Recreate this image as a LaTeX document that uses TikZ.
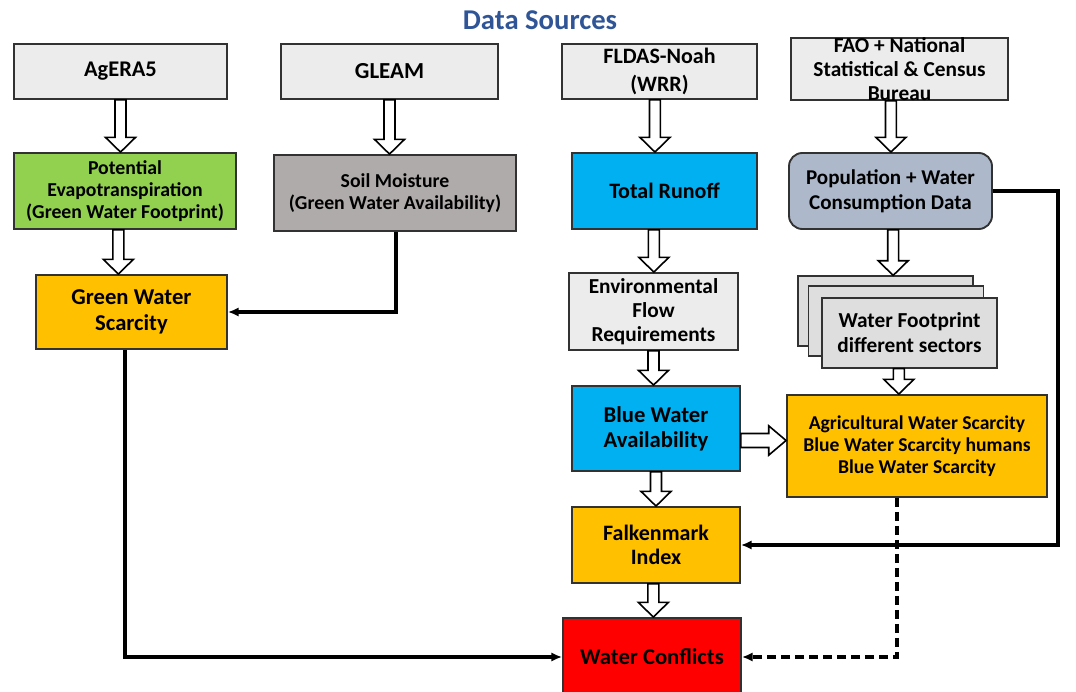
\documentclass[tikz,border=0pt]{standalone}
\usepackage{fontspec}
\setmainfont{Carlito}
\usetikzlibrary{calc,arrows.meta}

\definecolor{srcgray}{RGB}{236,236,236}
\definecolor{cardgray}{RGB}{222,222,222}
\definecolor{soilgray}{RGB}{175,171,171}
\definecolor{petgreen}{RGB}{146,208,80}
\definecolor{scarcity}{RGB}{255,192,0}
\definecolor{runoffblue}{RGB}{0,176,240}
\definecolor{popblue}{RGB}{173,185,202}
\definecolor{conflictred}{RGB}{255,0,0}
\definecolor{titleblue}{RGB}{47,85,151}
\definecolor{edge}{RGB}{50,50,50}

\newcommand{\fs}[2]{\fontsize{#1}{#2}\bfseries\selectfont}

% hollow block arrows
\newcommand{\fatdown}[2]{%
  \draw[fatarrow] let \p1=(#1), \p2=(#2) in
    (\x1-4.1pt,\y1) -- (\x1-4.1pt,\y2+11pt) -- (\x1-11.25pt,\y2+11pt) -- (\x1,\y2)
    -- (\x1+11.25pt,\y2+11pt) -- (\x1+4.1pt,\y2+11pt) -- (\x1+4.1pt,\y1) -- cycle;}
\newcommand{\fatright}[2]{%
  \draw[fatarrow] let \p1=(#1), \p2=(#2) in
    (\x1,\y1+5.25pt) -- (\x2-13pt,\y1+5.25pt) -- (\x2-13pt,\y1+11pt) -- (\x2,\y1)
    -- (\x2-13pt,\y1-11pt) -- (\x2-13pt,\y1-5.25pt) -- (\x1,\y1-5.25pt) -- cycle;}

\tikzset{every picture/.style={line width=0.75pt}}
\tikzset{
  box/.style={draw=edge, line width=1.4pt, align=center, inner sep=1pt},
  wh/.style 2 args={minimum width=#1, minimum height=#2},
  fatarrow/.style={draw=black, fill=white, line width=1.2pt, line join=miter},
  link/.style={draw=black, line width=2.4pt, -{Latex[length=8pt,width=7pt]}},
  dashlink/.style={link, dash pattern=on 7pt off 3.5pt},
}

\begin{document}
\begin{tikzpicture}[x=0.75pt,y=-0.75pt]
  \useasboundingbox (0,0) rectangle (1076,692);
  \clip (0,0) rectangle (1076,692);

  % Title
  \node[text=titleblue, font=\fs{21.5}{24}] (title) at (540,20) {Data Sources};

  % Data source boxes
  \node[box, fill=srcgray, wh={159.75pt}{41.25pt}, font=\fs{16.8}{20}] (agera) at (120.5,71.5) {AgERA5};
  \node[box, fill=srcgray, wh={162.75pt}{41.25pt}, font=\fs{17.2}{20}] (gleam) at (389.5,71.5) {GLEAM};
  \node[box, fill=srcgray, wh={146.25pt}{41.25pt}, font=\fs{16.5}{21}] (fldas) at (659.5,71.5) {FLDAS-Noah\\(WRR)};
  \node[box, fill=srcgray, wh={162.75pt}{46.5pt}] (fao) at (899.5,69) {};
  \node[align=center, inner sep=0pt, font=\fs{16}{18}] (faotext) at (fao.center) {FAO + National\\Statistical \& Census\\Bureau};

  % Second row
  \node[box, fill=petgreen, wh={166.5pt}{57pt}, font=\fs{14.8}{16.5}] (pet) at (125,191) {Potential\\Evapotranspiration\\(Green Water Footprint)};
  \node[box, fill=soilgray, wh={181.5pt}{57pt}, font=\fs{14.8}{16.5}] (soil) at (395,193) {Soil Moisture\\(Green Water Availability)};
  \node[box, fill=runoffblue, wh={138.75pt}{57pt}, font=\fs{16.5}{20}] (runoff) at (664.5,191) {Total Runoff};
  \node[box, fill=popblue, rounded corners=10pt, wh={152.25pt}{57pt}, font=\fs{15.8}{19}] (pop) at (890.5,191) {Population + Water\\Consumption Data};

  % Third row
  \node[box, fill=scarcity, wh={143.25pt}{55.5pt}, font=\fs{17}{19.5}] (gws) at (131.5,312) {Green Water\\Scarcity};
  \node[box, fill=srcgray, wh={126.75pt}{57.75pt}, font=\fs{16}{18}] (env) at (653.5,311.5) {Environmental\\Flow\\Requirements};
  \node[box, fill=cardgray, wh={131.25pt}{52pt}] (wfback) at (885.5,311) {};
  \node[box, fill=cardgray, wh={131.25pt}{52pt}] (wfmid) at (896,321) {};
  \node[box, fill=cardgray, wh={131.25pt}{52pt}, font=\fs{16}{18.75}] (wf) at (909.5,333) {Water Footprint\\different sectors};

  % Fourth row
  \node[box, fill=runoffblue, wh={126pt}{63.75pt}, font=\fs{17}{18.75}] (blue) at (656,428.5) {Blue Water\\Availability};
  \node[box, fill=scarcity, wh={195pt}{76.5pt}, font=\fs{14.7}{16.25}] (agri) at (917,446) {Agricultural Water Scarcity\\Blue Water Scarcity humans\\Blue Water Scarcity};
  \node[box, fill=scarcity, wh={126pt}{57pt}, font=\fs{16.5}{18}] (falk) at (656,545) {Falkenmark\\Index};
  \node[box, fill=conflictred, wh={133.5pt}{58.5pt}, font=\fs{17}{20}] (conf) at (652,657) {Water Conflicts};

  % Block arrows
  \fatdown{agera.south}{pet.north}
  \fatdown{[xshift=-5pt]pet.south}{gws.north}
  \fatdown{gleam.south}{soil.north}
  \fatdown{[xshift=-3.4pt]fldas.south}{runoff.north}
  \fatdown{[xshift=-6.4pt]fao.south}{pop.north}
  \fatdown{[xshift=-8pt]runoff.south}{env.north}
  \fatdown{[xshift=2pt]pop.south}{wfback.north}
  \fatdown{env.south}{blue.north}
  \fatdown{[xshift=-8pt]wf.south}{agri.north}
  \fatdown{blue.south}{falk.north}
  \fatdown{[xshift=-2pt]falk.south}{conf.north}
  \fatright{[yshift=-9pt]blue.east}{agri.west}

  % Connectors
  \coordinate (popturn) at (1058,545);
  \draw[link] ([xshift=0.75pt]soil.south) |- (gws.east);
  \draw[link] ([xshift=-4.9pt]gws.south) |- (conf.west);
  \draw[link] (pop.east) -| (popturn) -- (falk.east);
  \draw[dashlink] ([xshift=-15pt]agri.south) |- (conf.east);
\end{tikzpicture}
\end{document}
